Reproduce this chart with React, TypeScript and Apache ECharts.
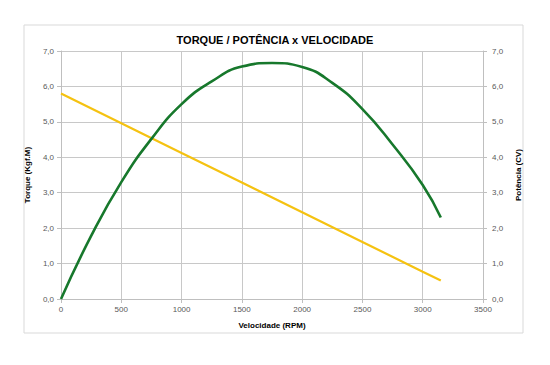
import React, { useEffect, useRef } from "react";
import * as echarts from "echarts";

const titleText = "TORQUE / POTÊNCIA x VELOCIDADE";
const xName = "Velocidade (RPM)";
const leftName = "Torque (Kgf.M)";
const rightName = "Potência (CV)";

const torqueRpm = [0, 500, 1000, 1500, 2000, 2500, 3000, 3150];
const torqueVal = [5.8, 4.96, 4.12, 3.29, 2.45, 1.61, 0.77, 0.52];

const powerRpm = [0, 250, 500, 750, 1000, 1250, 1500, 1750, 2000, 2250, 2500, 2750, 3000, 3150];
const powerVal = [0, 1.78, 3.3, 4.52, 5.5, 6.14, 6.56, 6.66, 6.55, 6.1, 5.36, 4.36, 3.22, 2.3];

const fmt = (v: number) => v.toFixed(1).replace(".", ",");

export default function App() {
  const ref = useRef<HTMLDivElement>(null);
  useEffect(() => {
    if (!ref.current) return;
    const chart = echarts.init(ref.current, undefined, { renderer: "svg" });
    const font = "Liberation Sans, Arial, sans-serif";
    const axisLabel = { color: "#595959", fontSize: 8, fontFamily: font };
    const yCommon = {
      type: "value" as const,
      min: 0,
      max: 7,
      interval: 1,
      nameLocation: "middle" as const,
      nameRotate: 90,
      nameTextStyle: { color: "#000", fontSize: 8, fontWeight: "bold" as const, fontFamily: font },
      axisLine: { show: true, lineStyle: { color: "#bfbfbf" } },
      axisTick: { show: true, length: 4, lineStyle: { color: "#bfbfbf" } },
    };
    chart.setOption({
      animation: false,
      backgroundColor: "#fff",
      title: {
        text: titleText,
        left: 270,
        textAlign: "center",
        top: 29,
        textStyle: { fontSize: 11, fontWeight: "bold", color: "#000", fontFamily: font },
      },
      graphic: [
        {
          type: "rect",
          shape: { x: 24, y: 25, width: 499, height: 308 },
          style: { fill: "none", stroke: "#d9d9d9", lineWidth: 1 },
          silent: true,
        },
      ],
      grid: { left: 61, right: 67, top: 51, bottom: 66 },
      xAxis: {
        type: "value",
        min: 0,
        max: 3500,
        interval: 500,
        name: xName,
        nameLocation: "middle",
        nameGap: 22,
        nameTextStyle: { color: "#000", fontSize: 8, fontWeight: "bold", fontFamily: font },
        axisLine: { show: true, lineStyle: { color: "#bfbfbf" } },
        axisTick: { show: true, length: 4, lineStyle: { color: "#bfbfbf" } },
        axisLabel: { ...axisLabel, margin: 6, formatter: (v: number) => String(v) },
        splitLine: { show: true, lineStyle: { color: "#c8c8c8", width: 1 } },
      },
      yAxis: [
        {
          ...yCommon,
          position: "left",
          name: leftName,
          nameGap: 26,
          axisLabel: { ...axisLabel, formatter: fmt, margin: 7 },
          splitLine: { show: true, lineStyle: { color: "#c8c8c8", width: 1 } },
        },
        {
          ...yCommon,
          position: "right",
          name: rightName,
          nameGap: 29,
          axisLabel: { ...axisLabel, formatter: fmt, margin: 9 },
          splitLine: { show: false },
        },
      ],
      series: [
        {
          type: "line",
          name: "Torque",
          yAxisIndex: 0,
          data: torqueRpm.map((r, i) => [r, torqueVal[i]]),
          showSymbol: false,
          lineStyle: { color: "#f5c211", width: 2.2 },
          z: 3,
        },
        {
          type: "line",
          name: "Potência",
          yAxisIndex: 1,
          data: powerRpm.map((r, i) => [r, powerVal[i]]),
          smooth: 0.5,
          showSymbol: false,
          lineStyle: { color: "#17782c", width: 2.6 },
          z: 4,
        },
      ],
    });
    return () => chart.dispose();
  }, []);
  return (
    <div
      ref={ref}
      style={{ position: "fixed", left: 0, top: 0, width: 550, height: 365 }}
    />
  );
}
